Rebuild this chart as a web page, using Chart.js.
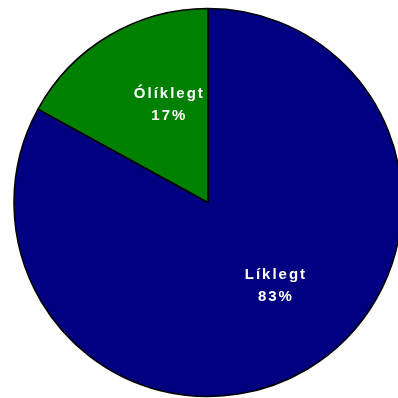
<!DOCTYPE html>
<html>
<head>
<meta charset="utf-8">
<script src="https://cdn.jsdelivr.net/npm/chart.js@4/dist/chart.umd.min.js"></script>
<style>
  html, body { margin: 0; padding: 0; background: #fff; overflow: hidden; }
  #wrap { width: 398px; height: 398px; overflow: hidden; }
  canvas { display: block; }
</style>
</head>
<body>
<div id="wrap"><canvas id="pie" width="420" height="398"></canvas></div>
<script>
const categories = ['Líklegt', 'Ólíklegt'];
const shares = [83, 17];
const sliceColors = ['#000080', '#008000'];

// Draws "name / percent" inside each slice, pulled a little toward the top seam
const sliceLabels = {
    id: 'sliceLabels',
    afterDatasetsDraw(chart) {
        const ctx = chart.ctx;
        const meta = chart.getDatasetMeta(0);
        const total = shares.reduce((a, b) => a + b, 0);
        const nudge = [-0.15, 0.15];
        meta.data.forEach((arc, i) => {
            const { x, y, startAngle, endAngle, outerRadius } = arc.getProps(['x', 'y', 'startAngle', 'endAngle', 'outerRadius'], true);
            const mid = (startAngle + endAngle) / 2 + nudge[i];
            const dist = outerRadius * 0.546;
            const cx = x + Math.cos(mid) * dist;
            const cy = y + Math.sin(mid) * dist;
            const pct = Math.round(shares[i] / total * 100) + '%';
            ctx.save();
            ctx.fillStyle = '#ffffff';
            ctx.font = 'bold 15px "Liberation Sans", Arial, sans-serif';
            ctx.textAlign = 'center';
            ctx.textBaseline = 'middle';
            ctx.letterSpacing = '2px';
            ctx.fillText(categories[i], cx + 1, cy - 10);
            ctx.fillText(pct, cx + 1, cy + 12);
            ctx.restore();
        });
    }
};

new Chart(document.getElementById('pie').getContext('2d'), {
    type: 'pie',
    data: {
        labels: categories,
        datasets: [{
            data: shares,
            backgroundColor: sliceColors,
            borderColor: '#000000',
            borderWidth: 1.5
        }]
    },
    options: {
        responsive: false,
        animation: false,
        radius: 194,
        layout: { padding: { left: 0, right: 4, top: 7, bottom: 0 } },
        plugins: {
            legend: { display: false },
            tooltip: { enabled: false }
        }
    },
    plugins: [sliceLabels]
});
</script>
</body>
</html>
